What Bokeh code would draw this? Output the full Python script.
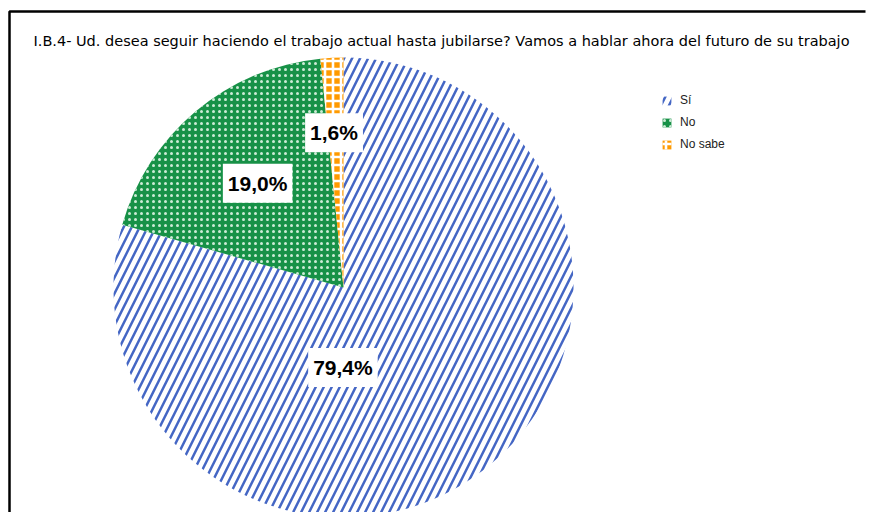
import math
from bokeh.plotting import figure
from bokeh.models import ColumnDataSource, Range1d, Label, Legend, LegendItem
from bokeh.embed import file_html
from bokeh.resources import INLINE

# ---------------- data ----------------
categories = ["Sí", "No", "No sabe"]
shares = [79.4, 19.0, 1.6]
value_labels = ["79,4%", "19,0%", "1,6%"]
title_text = ("I.B.4- Ud. desea seguir haciendo el trabajo actual hasta jubilarse? "
              "Vamos a hablar ahora del futuro de su trabajo")

# ---------------- layout ----------------
W, H = 869, 512
CX, CY, R = 343, 225, 230
# label placement (polar, degrees ccw from +x, distance in px from centre)
label_polar = [(-90.4, 80), (129.5, 135), (93.5, 155)]

p = figure(width=W, height=H, output_backend="svg", toolbar_location=None,
           x_range=Range1d(0, W), y_range=Range1d(0, H), min_border=0,
           background_fill_color="white", border_fill_color="white")
p.axis.visible = False
p.grid.visible = False
p.outline_line_color = None

total = sum(shares)
starts, ends = [], []
acc = 0.0
for s in shares:
    a0 = math.pi / 2 - 2 * math.pi * acc / total
    acc += s
    a1 = math.pi / 2 - 2 * math.pi * acc / total
    starts.append(a0)
    ends.append(a1)

styles = [
    dict(fill_color="white", hatch_pattern="right_diagonal_line",
         hatch_color="#4466C4", hatch_scale=16, hatch_weight=2.5),
    dict(fill_color="#179147", hatch_pattern="dot",
         hatch_color="#CDEBD6", hatch_scale=6, hatch_weight=1.6),
    dict(fill_color="#FF9A00", hatch_pattern="cross",
         hatch_color="white", hatch_scale=8, hatch_weight=2.6),
]

items = []
for i, cat in enumerate(categories):
    src = ColumnDataSource(dict(x=[CX], y=[CY], s=[starts[i]], e=[ends[i]]))
    r = p.wedge(x="x", y="y", radius=R, start_angle="s", end_angle="e",
                direction="clock", source=src, line_color=None, **styles[i])
    items.append(LegendItem(label=cat, renderers=[r]))

for i, txt in enumerate(value_labels):
    ang, dist = label_polar[i]
    lx = CX + dist * math.cos(math.radians(ang))
    ly = CY + dist * math.sin(math.radians(ang))
    p.add_layout(Label(x=lx, y=ly, text=txt, text_align="center",
                       text_baseline="middle", text_font="Liberation Sans",
                       text_font_style="bold", text_font_size="21px",
                       text_color="black", background_fill_color="white",
                       padding=dict(left=5, right=5, top=8, bottom=8)))

# chart frame (top and left edges)
p.line(x=[9, 9, 865], y=[-5, 501, 501], line_color="black", line_width=2.5)

p.add_layout(Label(x=33, y=472, text=title_text, text_font="DejaVu Sans",
                   text_font_size="14.5px", text_color="#000000",
                   text_baseline="alphabetic"))

legend = Legend(items=items, location=(661, 361), padding=0, margin=0,
                spacing=8, glyph_width=11, glyph_height=11, label_height=12,
                label_standoff=8, label_text_font="Liberation Sans",
                label_text_font_size="12px", label_text_color="#222222",
                border_line_color=None, background_fill_alpha=0)
p.add_layout(legend, "center")

open("out.html", "w").write(file_html(p, INLINE))
